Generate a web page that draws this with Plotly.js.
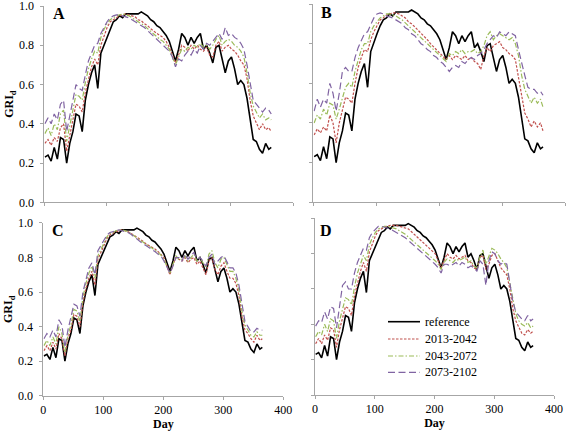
<!DOCTYPE html>
<html>
<head>
<meta charset="utf-8">
<script src="https://cdn.plot.ly/plotly-3.0.1.min.js"></script>
<style>html,body{margin:0;padding:0;background:#fff;}#chart{width:567px;height:432px;}</style>
</head>
<body>
<div id="chart"></div>
<script>
// Day of year (sampled)
const days = [1,6,11,16,21,26,31,36,41,46,51,56,61,66,71,76,81,86,91,96,101,106,111,116,121,126,131,136,141,146,151,156,161,166,171,176,181,186,191,196,201,206,211,216,221,226,231,236,241,246,251,256,261,266,271,276,281,286,291,296,301,306,311,316,321,326,331,336,341,346,351,356,361,365];

const seriesNames = ["reference","2013-2042","2043-2072","2073-2102"];
const panelLabels = ["A","B","C","D"];

// Reference (same in every panel)
const reference = [0.23,0.24,0.21,0.28,0.22,0.33,0.32,0.20,0.30,0.36,
  0.45,0.44,0.36,0.52,0.60,0.66,0.70,0.58,0.76,0.80,
  0.85,0.89,0.92,0.93,0.95,0.94,0.96,0.96,0.96,0.96,
  0.96,0.97,0.96,0.95,0.93,0.92,0.90,0.89,0.87,0.85,
  0.82,0.77,0.72,0.78,0.86,0.84,0.80,0.84,0.81,0.84,
  0.86,0.78,0.80,0.76,0.71,0.79,0.80,0.73,0.66,0.72,
  0.74,0.68,0.60,0.62,0.60,0.53,0.42,0.32,0.31,0.27,
  0.25,0.30,0.27,0.28];

// Panel A
const a2013 = [0.30,0.32,0.29,0.33,0.31,0.38,0.40,0.26,0.34,0.42,
  0.50,0.49,0.46,0.56,0.63,0.69,0.73,0.70,0.80,0.85,
  0.89,0.92,0.93,0.94,0.95,0.955,0.96,0.955,0.95,0.945,
  0.93,0.925,0.91,0.90,0.885,0.87,0.86,0.85,0.84,0.82,
  0.79,0.75,0.71,0.75,0.80,0.79,0.77,0.80,0.78,0.80,
  0.78,0.77,0.79,0.75,0.74,0.80,0.82,0.77,0.79,0.80,
  0.78,0.77,0.75,0.72,0.70,0.63,0.52,0.44,0.40,0.37,
  0.40,0.37,0.38,0.36];
const a2043 = [0.35,0.38,0.34,0.40,0.37,0.45,0.47,0.31,0.39,0.48,
  0.55,0.54,0.52,0.61,0.68,0.73,0.77,0.76,0.84,0.88,
  0.91,0.93,0.94,0.95,0.955,0.96,0.955,0.95,0.94,0.93,
  0.92,0.91,0.90,0.885,0.87,0.855,0.84,0.83,0.82,0.80,
  0.78,0.74,0.70,0.74,0.78,0.77,0.79,0.78,0.80,0.79,
  0.81,0.79,0.80,0.78,0.80,0.83,0.85,0.80,0.82,0.83,
  0.82,0.80,0.79,0.77,0.74,0.66,0.56,0.49,0.46,0.43,
  0.45,0.42,0.43,0.42];
const a2073 = [0.40,0.43,0.40,0.45,0.42,0.50,0.52,0.36,0.44,0.53,
  0.60,0.58,0.57,0.65,0.72,0.76,0.80,0.81,0.86,0.89,
  0.92,0.94,0.95,0.955,0.955,0.95,0.945,0.94,0.93,0.92,
  0.91,0.90,0.89,0.875,0.86,0.845,0.83,0.82,0.80,0.79,
  0.77,0.74,0.69,0.73,0.72,0.75,0.77,0.75,0.78,0.76,
  0.80,0.78,0.81,0.80,0.82,0.84,0.86,0.83,0.89,0.85,
  0.86,0.84,0.83,0.81,0.78,0.70,0.60,0.52,0.50,0.48,
  0.46,0.48,0.47,0.45];

// Panel B
const b2013 = [0.34,0.37,0.35,0.38,0.36,0.44,0.40,0.30,0.40,0.46,
  0.53,0.52,0.50,0.60,0.68,0.73,0.77,0.76,0.82,0.86,
  0.89,0.92,0.93,0.945,0.95,0.955,0.955,0.95,0.94,0.93,
  0.91,0.90,0.885,0.87,0.85,0.835,0.82,0.80,0.785,0.77,
  0.75,0.74,0.72,0.74,0.72,0.74,0.73,0.72,0.74,0.72,
  0.73,0.71,0.70,0.67,0.74,0.78,0.76,0.79,0.80,0.81,
  0.78,0.77,0.75,0.74,0.72,0.63,0.53,0.45,0.42,0.38,
  0.41,0.38,0.40,0.36];
const b2043 = [0.40,0.44,0.42,0.47,0.44,0.50,0.49,0.42,0.47,0.53,
  0.58,0.60,0.58,0.66,0.72,0.77,0.80,0.80,0.86,0.89,
  0.91,0.93,0.94,0.95,0.95,0.945,0.94,0.93,0.92,0.905,
  0.89,0.875,0.86,0.845,0.83,0.815,0.80,0.785,0.77,0.755,
  0.745,0.73,0.71,0.75,0.74,0.76,0.75,0.77,0.75,0.76,
  0.76,0.77,0.75,0.76,0.79,0.84,0.86,0.82,0.84,0.85,
  0.84,0.83,0.82,0.83,0.80,0.74,0.64,0.57,0.53,0.50,
  0.53,0.50,0.52,0.48];
const b2073 = [0.46,0.52,0.48,0.52,0.50,0.60,0.55,0.46,0.55,0.66,
  0.68,0.66,0.66,0.73,0.78,0.82,0.85,0.86,0.90,0.93,
  0.95,0.955,0.95,0.94,0.935,0.93,0.92,0.91,0.90,0.88,
  0.87,0.85,0.84,0.82,0.80,0.79,0.77,0.76,0.74,0.73,
  0.71,0.70,0.68,0.66,0.68,0.69,0.68,0.71,0.70,0.72,
  0.73,0.72,0.74,0.75,0.77,0.80,0.82,0.84,0.83,0.86,
  0.85,0.84,0.86,0.85,0.84,0.77,0.70,0.64,0.58,0.57,
  0.57,0.55,0.56,0.54];

// Panel C
const c2013 = [0.26,0.29,0.26,0.31,0.27,0.36,0.33,0.23,0.33,0.38,
  0.47,0.46,0.40,0.54,0.62,0.68,0.72,0.64,0.79,0.83,
  0.88,0.91,0.93,0.94,0.95,0.955,0.96,0.955,0.95,0.94,
  0.93,0.92,0.91,0.895,0.88,0.87,0.86,0.85,0.835,0.82,
  0.80,0.75,0.70,0.76,0.80,0.79,0.78,0.80,0.77,0.79,
  0.80,0.76,0.78,0.74,0.70,0.78,0.80,0.73,0.70,0.75,
  0.77,0.72,0.68,0.68,0.65,0.58,0.46,0.38,0.36,0.33,
  0.31,0.35,0.32,0.33];
const c2043 = [0.29,0.32,0.29,0.34,0.30,0.40,0.36,0.25,0.35,0.41,
  0.50,0.49,0.43,0.57,0.65,0.71,0.75,0.68,0.81,0.85,
  0.89,0.92,0.94,0.945,0.955,0.96,0.96,0.955,0.95,0.94,
  0.925,0.915,0.90,0.89,0.875,0.865,0.855,0.84,0.83,0.815,
  0.79,0.75,0.71,0.76,0.81,0.79,0.79,0.81,0.78,0.80,
  0.82,0.78,0.80,0.77,0.74,0.82,0.84,0.77,0.74,0.79,
  0.80,0.76,0.72,0.72,0.68,0.61,0.49,0.41,0.38,0.35,
  0.34,0.37,0.35,0.35];
const c2073 = [0.33,0.36,0.34,0.38,0.34,0.44,0.41,0.28,0.38,0.45,
  0.53,0.52,0.46,0.60,0.68,0.74,0.77,0.70,0.84,0.87,
  0.90,0.93,0.945,0.95,0.955,0.96,0.955,0.95,0.945,0.935,
  0.92,0.91,0.895,0.88,0.87,0.86,0.845,0.835,0.82,0.81,
  0.78,0.74,0.71,0.75,0.80,0.80,0.78,0.82,0.79,0.81,
  0.83,0.79,0.80,0.78,0.75,0.80,0.82,0.76,0.78,0.80,
  0.81,0.77,0.74,0.74,0.71,0.64,0.52,0.43,0.40,0.37,
  0.37,0.39,0.38,0.38];

// Panel D
const d2013 = [0.29,0.32,0.29,0.34,0.31,0.38,0.37,0.27,0.37,0.43,
  0.50,0.49,0.45,0.56,0.64,0.70,0.75,0.70,0.81,0.86,
  0.90,0.93,0.94,0.95,0.955,0.96,0.96,0.96,0.955,0.95,
  0.945,0.94,0.925,0.91,0.895,0.88,0.865,0.85,0.835,0.82,
  0.80,0.76,0.72,0.76,0.80,0.78,0.77,0.79,0.77,0.78,
  0.79,0.76,0.75,0.72,0.71,0.78,0.79,0.71,0.74,0.79,
  0.80,0.76,0.72,0.70,0.68,0.60,0.49,0.42,0.38,0.35,
  0.34,0.37,0.35,0.36];
const d2043 = [0.33,0.36,0.34,0.40,0.36,0.43,0.42,0.32,0.42,0.49,
  0.55,0.54,0.51,0.61,0.69,0.74,0.79,0.76,0.85,0.89,
  0.92,0.94,0.95,0.955,0.955,0.95,0.945,0.94,0.93,0.92,
  0.91,0.895,0.88,0.865,0.85,0.835,0.82,0.81,0.795,0.78,
  0.76,0.74,0.71,0.75,0.77,0.76,0.75,0.77,0.76,0.77,
  0.78,0.75,0.76,0.73,0.72,0.78,0.82,0.74,0.78,0.83,
  0.82,0.80,0.77,0.75,0.72,0.63,0.53,0.46,0.42,0.40,
  0.39,0.41,0.38,0.39];
const d2073 = [0.39,0.42,0.41,0.47,0.43,0.50,0.49,0.38,0.50,0.62,
  0.64,0.60,0.60,0.69,0.75,0.79,0.83,0.82,0.89,0.92,
  0.94,0.955,0.955,0.95,0.945,0.94,0.93,0.92,0.91,0.90,
  0.89,0.875,0.86,0.845,0.83,0.815,0.80,0.79,0.775,0.76,
  0.74,0.72,0.69,0.74,0.74,0.73,0.74,0.75,0.73,0.75,
  0.74,0.72,0.73,0.72,0.70,0.76,0.74,0.62,0.76,0.81,
  0.80,0.76,0.74,0.75,0.74,0.64,0.53,0.47,0.45,0.43,
  0.42,0.45,0.42,0.43];

const panelData = [
  [reference, a2013, a2043, a2073],
  [reference, b2013, b2043, b2073],
  [reference, c2013, c2043, c2073],
  [reference, d2013, d2043, d2073]
];

const styles = [
  {color:'#000000', width:1.6, dash:'solid'},
  {color:'#C0504D', width:1.2, dash:'2.5px,1.5px'},
  {color:'#9BBB59', width:1.2, dash:'5px,2px,1.5px,2px'},
  {color:'#8064A2', width:1.2, dash:'7px,3.5px'}
];

const FONT = '"Liberation Serif", "Times New Roman", serif';
const traces = [];
const axIds = ['', '2', '3', '4'];
panelData.forEach((series, p) => {
  series.forEach((vals, s) => {
    traces.push({
      type:'scatter', mode:'lines',
      x: days, y: vals,
      xaxis: 'x' + axIds[p], yaxis: 'y' + axIds[p],
      name: seriesNames[s],
      showlegend: false,
      line: styles[s],
      hoverinfo:'skip'
    });
  });
});

const domains = [
  {x:[0.0781,0.5168], y:[0.5317,0.9861]},
  {x:[0.5529,0.9965], y:[0.5317,0.9907]},
  {x:[0.0764,0.4997], y:[0.0840,0.4838]},
  {x:[0.5556,0.9771], y:[0.0856,0.4947]}
];
// panel letter centres (paper fractions)
const letterPos = [[0.1041,0.9692],[0.575,0.9711],[0.1023,0.4664],[0.575,0.4653]];

const layout = {
  width:567, height:432,
  margin:{l:0,r:0,t:0,b:0},
  paper_bgcolor:'#ffffff', plot_bgcolor:'#ffffff',
  font:{family:FONT, size:12, color:'#000'},
  showlegend:false,
  annotations:[],
  shapes:[]
};

domains.forEach((d, p) => {
  const xa = {
    domain:d.x, anchor:'y'+axIds[p], range:[0,400], dtick:100, tick0:0,
    showline:true, linecolor:'#a6a6a6', linewidth:1,
    ticks:'outside', ticklen:3, tickcolor:'#a6a6a6',
    showgrid:false, zeroline:false, automargin:false,
    ticklabeloverflow:'allow',
    showticklabels: p >= 2,
    tickfont:{family:FONT, size:12, color:'#000'}
  };
  if (p >= 2) xa.title = {text:'<b>Day</b>', font:{family:FONT, size:12, color:'#000'}, standoff:2};
  const ya = {
    domain:d.y, anchor:'x'+axIds[p], range:[0,1], dtick:0.2, tick0:0,
    tickformat:'.1f',
    showline:true, linecolor:'#a6a6a6', linewidth:1,
    ticks:'outside', ticklen:3, tickcolor:'#a6a6a6',
    showgrid:false, zeroline:false, automargin:false,
    ticklabeloverflow:'allow', ticklabelstandoff:4,
    showticklabels: p % 2 === 0,
    tickfont:{family:FONT, size:12, color:'#000'}
  };
  if (p % 2 === 0) ya.title = {text:'<b>GRI<sub>d</sub></b>', font:{family:FONT, size:12, color:'#000'}, standoff:2};
  layout['xaxis'+axIds[p]] = xa;
  layout['yaxis'+axIds[p]] = ya;
  layout.annotations.push({
    text:'<b>'+panelLabels[p]+'</b>',
    xref:'paper', yref:'paper',
    x:letterPos[p][0], y:letterPos[p][1], xanchor:'center', yanchor:'middle', showarrow:false,
    font:{family:FONT, size:16, color:'#000'}
  });
});

// Manual legend inside panel D
const legX0 = 388/567, legX1 = 420/567, legTx = 423/567;
const legY = [1-321.7/432, 1-339/432, 1-356/432, 1-372.3/432];
seriesNames.forEach((nm, s) => {
  layout.shapes.push({
    type:'line', xref:'paper', yref:'paper',
    x0:legX0, x1:legX1, y0:legY[s], y1:legY[s],
    line:{color:styles[s].color, width:styles[s].width, dash:styles[s].dash}
  });
  layout.annotations.push({
    text:nm, xref:'paper', yref:'paper', x:legTx, y:legY[s],
    xanchor:'left', yanchor:'middle', showarrow:false,
    font:{family:FONT, size:12, color:'#000'}
  });
});

Plotly.newPlot('chart', traces, layout, {staticPlot:true, displayModeBar:false});
</script>
</body>
</html>
